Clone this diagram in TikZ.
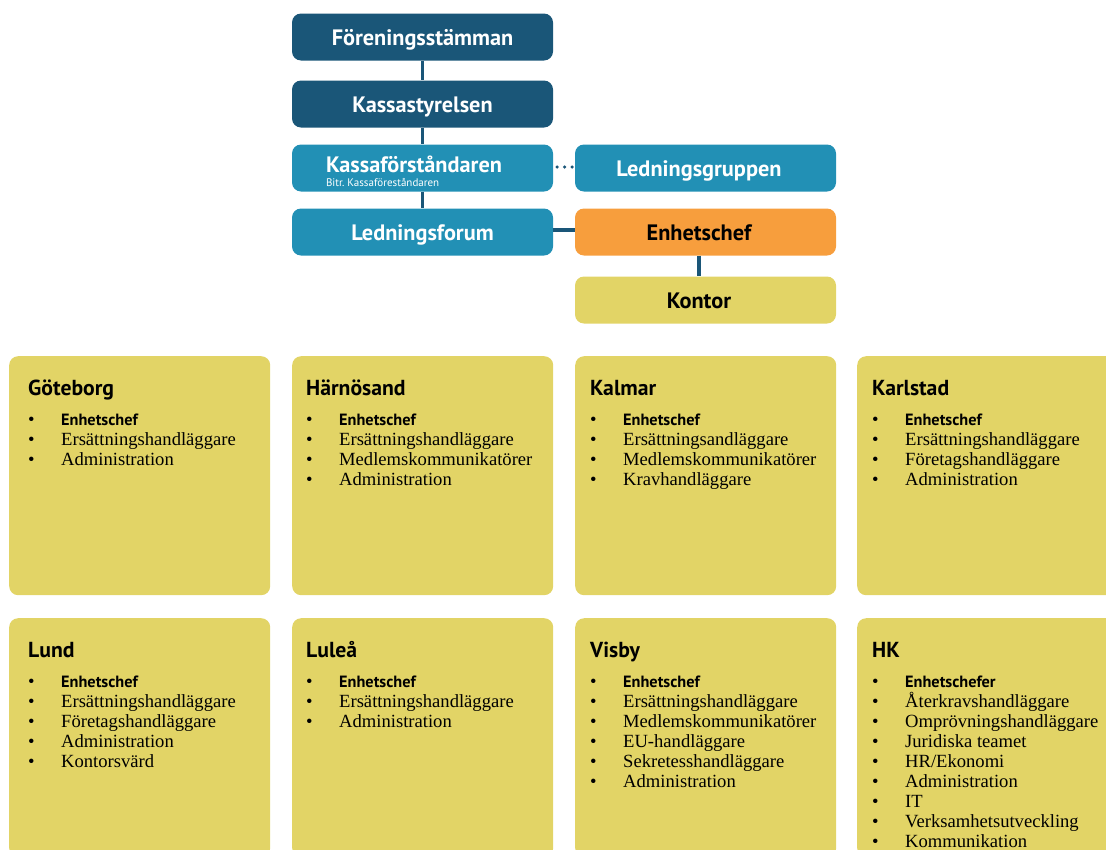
\documentclass[tikz,border=0pt]{standalone}
\usepackage{fontspec}
\setmainfont{Liberation Serif}
\newfontfamily\headfont{PT Sans}
\usepackage{tikz}
\usetikzlibrary{calc}

\definecolor{boardblue}{HTML}{1A5678}
\definecolor{mgmtblue}{HTML}{2290B5}
\definecolor{chieforange}{HTML}{F79E3D}
\definecolor{officeyellow}{HTML}{E2D466}

\tikzset{
  orgbox/.style={rounded corners=9pt, minimum width=261pt, minimum height=47pt, inner sep=0pt,
    text height=19pt, text depth=2pt, font=\headfont\bfseries\fontsize{22.3}{24}\selectfont},
  board/.style={orgbox, fill=boardblue, text=white},
  mgmt/.style={orgbox, fill=mgmtblue, text=white},
  chief/.style={orgbox, fill=chieforange, text=black},
  office/.style={orgbox, fill=officeyellow, text=black},
  leftish/.style={execute at begin node=\hspace*{-13pt}},
  subtitle/.style={anchor=base west, inner sep=0pt, text=white, font=\headfont\fontsize{11}{12}\selectfont},
  citybox/.style={fill=officeyellow, rounded corners=9pt, minimum width=261pt, minimum height=239pt,
    anchor=north west, inner sep=0pt},
  cityhead/.style={anchor=base west, inner sep=0pt, font=\headfont\bfseries\fontsize{21.7}{24}\selectfont},
  cityitem/.style={anchor=base west, inner sep=0pt, font=\fontsize{18.6}{20}\selectfont},
  conn/.style={draw=boardblue, line width=3.5pt}
}

\newcommand{\bul}{\makebox[33pt][l]{\textbullet}}
% #1 name, #2 box x, #3 box y, #4 text x, #5 title, #6 chef, #7 rest
\newcommand{\officebox}[7]{%
  \node[citybox] (#1) at (#2,#3) {};
  \node[cityhead] (#1-head) at (#4,#3+39) {#5};
  \node[cityitem] (#1-0) at (#4,#3+69) {\bul{\headfont\bfseries\fontsize{16.3}{20}\selectfont #6}};
  \foreach \txt [count=\i] in {#7}
    \node[cityitem] (#1-\i) at (#4,#3+69+20*\i) {\bul\txt};
}

\begin{document}
\begin{tikzpicture}[x=1pt,y=-1pt]
\useasboundingbox (0,0) rectangle (1106,849);
\clip (0,0) rectangle (1106,849);

\node[board]   (stamma) at (422.5,37)  {Föreningsstämman};
  \node[board]   (styrelse) at (422.5,104) {Kassastyrelsen};
  \node[mgmt, text width=193pt, inner xsep=34pt, align=left, text height=13pt, text depth=4pt]
                 (forestandare) at (422.5,168) {Kassaförståndaren};
  \node[subtitle] (bitr) at ([xshift=34pt,yshift=5pt]forestandare.south west) {Bitr.~Kassaföreståndaren};
  \node[mgmt, leftish]   (ledgrupp) at (705.5,168) {Ledningsgruppen};
  \node[mgmt]    (ledforum) at (422.5,232) {Ledningsforum};
  \node[chief, leftish]  (enhetschef) at (705.5,232) {Enhetschef};
  \node[office, leftish] (kontor) at (705.5,300) {Kontor};

  \path[conn]
        (stamma) edge (styrelse)
        (styrelse) edge (forestandare)
        (forestandare) edge (ledforum)
        ([yshift=2pt]ledforum.east) edge ([yshift=2pt]enhetschef.west)
        ([xshift=-6.5pt]enhetschef.south) edge ([xshift=-6.5pt]kontor.north);

  \path[conn, line cap=round, dash pattern=on 0pt off 7.5pt, dash phase=3.5pt]
        ([yshift=1pt]forestandare.east) edge ([yshift=1pt]ledgrupp.west);

  \officebox{gbg}{9}{356}{28}{Göteborg}{Enhetschef}{Ersättningshandläggare,Administration}
  \officebox{harnosand}{292}{356}{306}{Härnösand}{Enhetschef}{Ersättningshandläggare,Medlemskommunikatörer,Administration}
  \officebox{kalmar}{575}{356}{590}{Kalmar}{Enhetschef}{Ersättningsandläggare,Medlemskommunikatörer,Kravhandläggare}
  \officebox{karlstad}{857}{356}{872}{Karlstad}{Enhetschef}{Ersättningshandläggare,Företagshandläggare,Administration}

  \officebox{lund}{9}{618}{28}{Lund}{Enhetschef}{Ersättningshandläggare,Företagshandläggare,Administration,Kontorsvärd}
  \officebox{lulea}{292}{618}{306}{Luleå}{Enhetschef}{Ersättningshandläggare,Administration}
  \officebox{visby}{575}{618}{590}{Visby}{Enhetschef}{Ersättningshandläggare,Medlemskommunikatörer,EU-handläggare,Sekretesshandläggare,Administration}
  \officebox{hk}{857}{618}{872}{HK}{Enhetschefer}{Återkravshandläggare,Omprövningshandläggare,Juridiska teamet,HR/Ekonomi,Administration,IT,Verksamhetsutveckling,Kommunikation}
\end{tikzpicture}
\end{document}
